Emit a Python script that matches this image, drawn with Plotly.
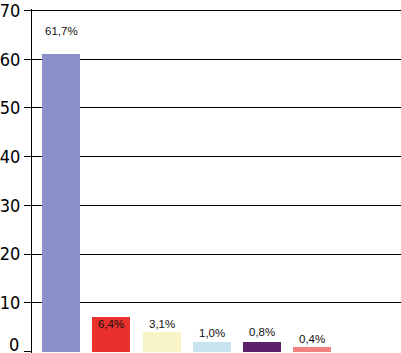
import plotly.graph_objects as go

categories = ["A", "B", "C", "D", "E", "F"]
bar_heights = [61.1, 7.05, 4.0, 1.95, 1.95, 0.95]
label_texts = ["61,7%", "6,4%", "3,1%", "1,0%", "0,8%", "0,4%"]
label_shifts = [23, -7, 8, 9, 10, 8]
colors = ["#8b8fcb", "#e9302c", "#f8f4c8", "#c6e3ef", "#5c1f6b", "#f2807c"]
tick_vals = [0, 10, 20, 30, 40, 50, 60, 70]

xs = list(range(len(categories)))

fig = go.Figure()
fig.add_trace(go.Bar(
    x=xs, y=bar_heights, width=0.757,
    marker=dict(color=colors, line=dict(width=0)),
    hoverinfo="skip", showlegend=False,
))

annotations = []
for i, (h, t, s) in enumerate(zip(bar_heights, label_texts, label_shifts)):
    annotations.append(dict(
        x=xs[i], y=h, xref="x", yref="y", text=t, showarrow=False,
        yshift=s, yanchor="middle", xanchor="center",
        font=dict(family="Liberation Sans, Arial, sans-serif", size=11.5, color="#111111"),
    ))
annotations.append(dict(
    x=0, y=0, xref="paper", yref="y", text="0", showarrow=False,
    xanchor="right", yanchor="middle", xshift=-11, yshift=7,
    font=dict(family="Liberation Sans Narrow, DejaVu Sans Condensed, sans-serif", size=18, color="#000000"),
))

fig.update_layout(
    width=401, height=353,
    margin=dict(l=29, r=0, t=7, b=0),
    paper_bgcolor="white", plot_bgcolor="white",
    bargap=0,
    annotations=annotations,
    xaxis=dict(
        range=[-0.584, 6.773], showgrid=False, zeroline=False,
        showticklabels=False, ticks="", showline=False, fixedrange=True,
    ),
    yaxis=dict(
        range=[-0.3, 70.3], tickvals=tick_vals,
        ticktext=["" if v == 0 else str(v) for v in tick_vals],
        ticklabeloverflow="allow",
        showgrid=True, gridcolor="#000000", gridwidth=1.2,
        zeroline=True, zerolinecolor="white", zerolinewidth=1,
        showline=True, linecolor="#000000", linewidth=1.3,
        ticks="outside", ticklen=7, tickwidth=1.2, tickcolor="#000000",
        tickfont=dict(family="Liberation Sans Narrow, DejaVu Sans Condensed, sans-serif", size=18, color="#000000"),
        fixedrange=True,
    ),
)

fig.write_html(
    "out.html",
    config={"displayModeBar": False},
    post_script="document.body.style.margin='0';document.body.style.overflow='hidden';",
)
